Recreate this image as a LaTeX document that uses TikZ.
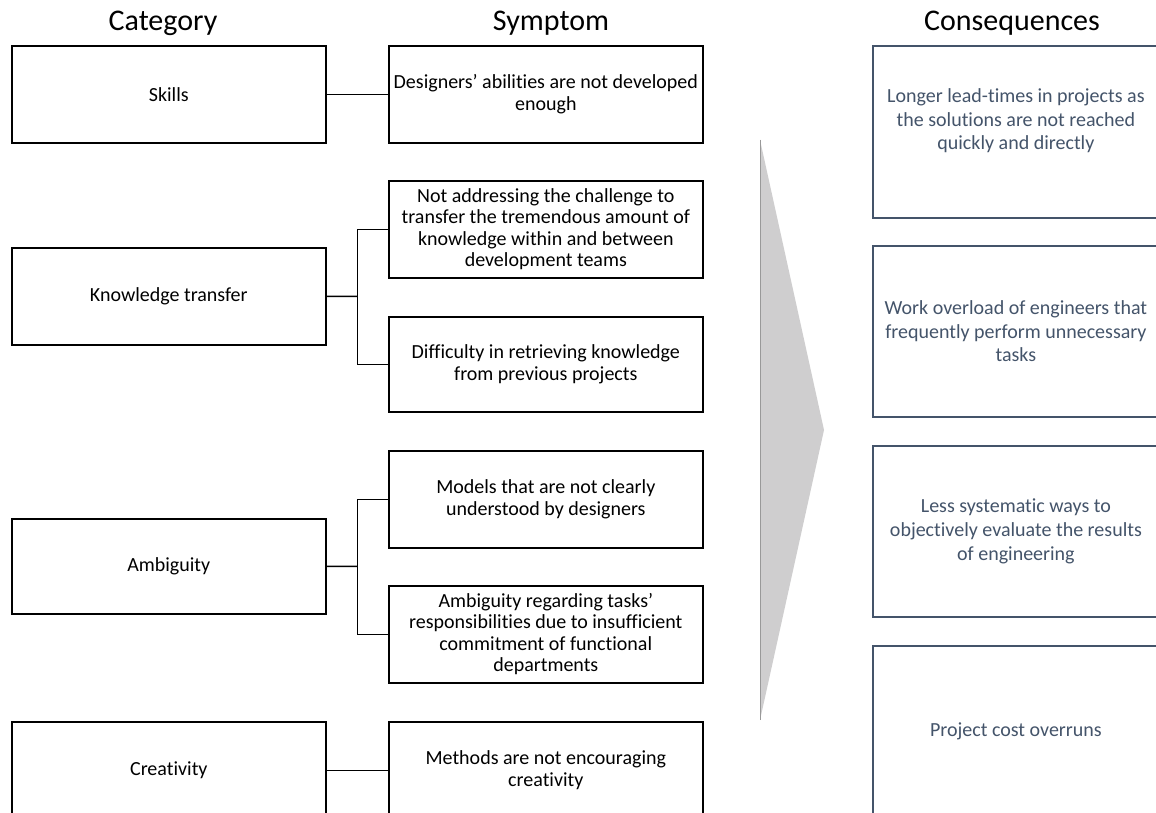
\documentclass[tikz,border=0pt]{standalone}
\usepackage{fontspec}
\setmainfont{Carlito}[Ligatures={NoCommon}]
\usetikzlibrary{calc}
\definecolor{slate}{HTML}{44546A}
\definecolor{arrowgray}{HTML}{CFCECF}

\begin{document}
\begin{tikzpicture}[x=1pt,y=-1pt,
  catbox/.style={draw=black, line width=1.6pt, minimum width=314pt, minimum height=97pt,
    inner sep=0pt, font=\fontsize{20}{24}\selectfont, anchor=north west},
  symbox/.style={draw=black, line width=1.6pt, minimum width=314pt, minimum height=97pt,
    inner sep=0pt, align=center, font=\fontsize{20}{21.5}\selectfont, anchor=north west},
  consbox/.style={draw=slate, line width=1.8pt, minimum width=286pt, minimum height=171pt,
    inner sep=0pt, align=center, text=slate, font=\fontsize{20}{23.6}\selectfont, anchor=north west},
  head/.style={font=\fontsize{30}{36}\selectfont, anchor=base},
  link/.style={line width=1.5pt}]

\clip (0,0) rectangle (1156,813);
\fill[white] (0,0) rectangle (1156,813);

% column headings
\node[head] (hcat)  at (163,31)  {Category};
\node[head] (hsym)  at (551,31)  {Symptom};
\node[head] (hcons) at (1012,31) {Consequences};

% categories
\node[catbox] (skills) at (11,45)  {Skills};
\node[catbox] (kt)     at (11,247) {Knowledge transfer};
\node[catbox, minimum height=95pt] (amb) at (11,518) {Ambiguity};
\node[catbox] (cre)    at (11,721) {Creativity};

% symptoms
\node[symbox] (s1) at (388,45)  {Designers’ abilities are not developed\\enough};
\node[symbox] (s2) at (388,180) {Not addressing the challenge to\\transfer the tremendous amount of\\knowledge within and between\\development teams};
\node[symbox, minimum height=95pt] (s3) at (388,316) {Difficulty in retrieving knowledge\\from previous projects};
\node[symbox] (s4) at (388,450) {Models that are not clearly\\understood by designers};
\node[symbox] (s5) at (388,585) {Ambiguity regarding tasks’\\responsibilities due to insufficient\\commitment of functional\\departments};
\node[symbox] (s6) at (388,721) {Methods are not encouraging\\creativity};

% connectors
\draw[link] (skills.east) -- (s1.west);
\coordinate (ktbus) at ($(kt.east)!0.5!(kt.east -| s2.west)$);
\draw[link] (kt.east) -- (ktbus);
\draw[link] (s2.west) -| (ktbus) |- (s3.west);
\coordinate (ambbus) at ($(amb.east)!0.5!(amb.east -| s4.west)$);
\draw[link] (amb.east) -- (ambbus);
\draw[link] (s4.west) -| (ambbus) |- (s5.west);
\draw[link] (cre.east) -- (cre.east -| s6.west);

% big chevron pointing to the consequences
\coordinate (atop) at (760,140);
\coordinate (atip) at (824,430);
\coordinate (abot) at (760,720);
\fill[arrowgray] (atop) -- (atip) -- (abot) -- cycle;
\draw[black!40, line width=0.7pt] (atop) -- (abot);

% consequences
\node[consbox, minimum height=172pt,
  label={[yshift=11pt, align=center, text=slate, font=\fontsize{20}{23.6}\selectfont]center:Longer lead-times in projects as\\the solutions are not reached\\quickly and directly}]
  (c1) at (872,45) {};
\node[consbox] (c2) at (872,245) {Work overload of engineers that\\frequently perform unnecessary\\tasks};
\node[consbox] (c3) at (872,445) {Less systematic ways to\\objectively evaluate the results\\of engineering};
\node[consbox] (c4) at (872,645) {Project cost overruns};

\end{tikzpicture}
\end{document}
